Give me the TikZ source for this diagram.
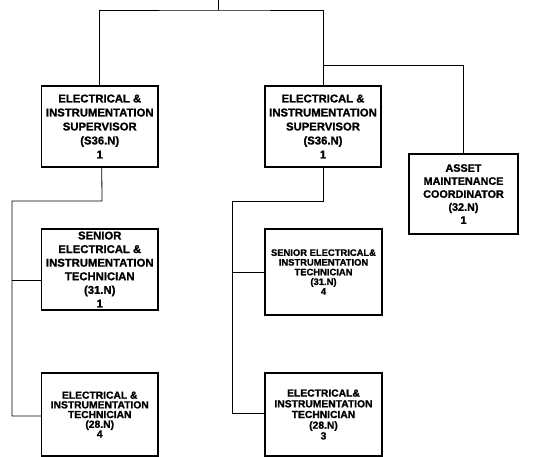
\documentclass[tikz,border=0pt]{standalone}
\usepackage{fontspec}
\setmainfont{Liberation Sans}[BoldFont={Liberation Sans Bold}]
\newfontfamily\boldarial{Liberation Sans Bold}[FakeBold=1.2]
\begin{document}
\begin{tikzpicture}[x=1pt,y=-1pt,
  box/.style={draw=black,line width=1.4pt,rectangle,align=center,inner sep=0pt},
  big/.style={font=\boldarial\fontsize{11.3}{14}\selectfont},
  mid/.style={font=\boldarial\fontsize{10.3}{9.7}\selectfont},
  small/.style={font=\boldarial\fontsize{9.4}{9.7}\selectfont},
  conn/.style={draw=black,line width=0.8pt}]
\useasboundingbox (0,0) rectangle (551,457);
\node[box,big,minimum width=116.5pt,minimum height=81pt] (sup1) at (99.75,126.5)
  {ELECTRICAL \&\\INSTRUMENTATION\\SUPERVISOR\\(S36.N)\\1};
\node[box,big,minimum width=116pt,minimum height=81pt] (sup2) at (323,126.5)
  {ELECTRICAL \&\\INSTRUMENTATION\\SUPERVISOR\\(S36.N)\\1};
\node[box,font=\boldarial\fontsize{10.8}{13}\selectfont,minimum width=109pt,minimum height=80pt] (amc) at (463.5,194)
  {ASSET\\MAINTENANCE\\COORDINATOR\\(32.N)\\1};
\node[box,font=\boldarial\fontsize{11.3}{13.6}\selectfont,minimum width=116.5pt,minimum height=81pt] (sen1) at (99.75,269.5)
  {SENIOR\\ELECTRICAL \&\\INSTRUMENTATION\\TECHNICIAN\\(31.N)\\1};
\node[box,mid,minimum width=116.5pt,minimum height=83pt] (tech1) at (99.75,414.5)
  {ELECTRICAL \&\\INSTRUMENTATION\\TECHNICIAN\\(28.N)\\4};
\node[box,small,minimum width=117pt,minimum height=86pt] (sen2) at (323.5,272)
  {SENIOR ELECTRICAL\&\\INSTRUMENTATION\\TECHNICIAN\\(31.N)\\4};
\node[box,font=\boldarial\fontsize{10.3}{10.7}\selectfont,minimum width=117pt,minimum height=83pt] (tech2) at (323.5,414.5)
  {ELECTRICAL\&\\INSTRUMENTATION\\TECHNICIAN\\(28.N)\\3};
\coordinate (top) at (218,0);
\coordinate (topbar) at (218,10);
\coordinate (rbr) at (323,65);
\coordinate (l1) at (102,201);
\coordinate (l2) at (12,201);
\coordinate (l3) at (12,280);
\coordinate (l4) at (12,416);
\coordinate (r1) at (323,201);
\coordinate (r2) at (232,201);
\coordinate (r3) at (232,272);
\coordinate (r4) at (232,413);
\draw[conn] (top) -- (topbar);
\draw[conn] (sup1.north) |- (topbar) -| (sup2.north);
\draw[conn] (rbr) -| (amc.north);
\draw[conn] ([xshift=2pt]sup1.south) -- (l1) -- (l2) -- (l4) -- (l4 -| tech1.west);
\draw[conn] (l3) -- (l3 -| sen1.west);
\draw[conn] (sup2.south) -- (r1) -- (r2) -- (r4) -- (r4 -| tech2.west);
\draw[conn] (r3) -- (sen2.west);
\end{tikzpicture}
\end{document}
